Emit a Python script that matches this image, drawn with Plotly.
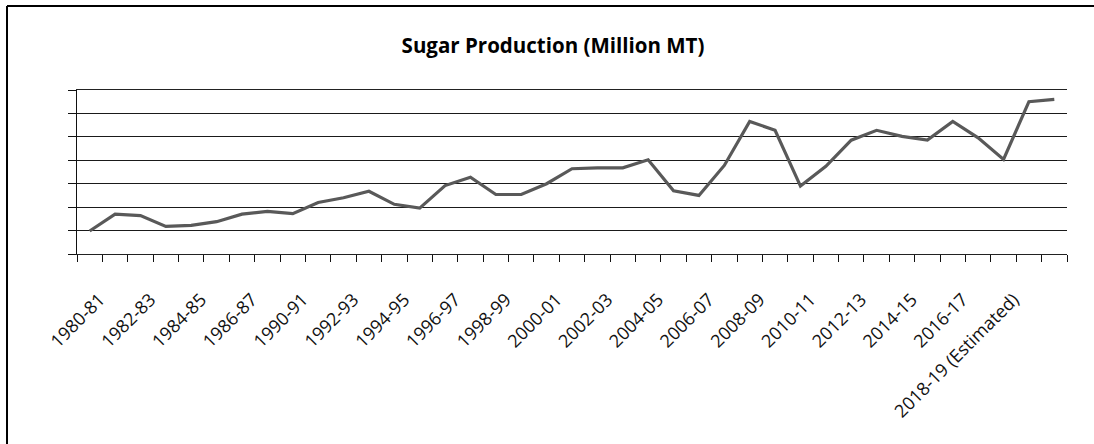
import plotly.graph_objects as go

categories = [
    "1980-81", "1981-82", "1982-83", "1983-84", "1984-85", "1985-86", "1986-87", "1989-90",
    "1990-91", "1991-92", "1992-93", "1993-94", "1994-95", "1995-96", "1996-97", "1997-98",
    "1998-99", "1999-00", "2000-01", "2001-02", "2002-03", "2003-04", "2004-05", "2005-06",
    "2006-07", "2007-08", "2008-09", "2009-10", "2010-11", "2011-12", "2012-13", "2013-14",
    "2014-15", "2015-16", "2016-17", "2017-18", "2018-19 (Estimated)", "2019-20 (Projected)",
    "2020-21 (Projected)",
]
production = [
    4.9, 8.5, 8.2, 5.9, 6.1, 6.9, 8.5, 9.1, 8.6, 11.0, 12.0, 13.4, 10.6, 9.8, 14.6, 16.4,
    12.7, 12.7, 15.0, 18.2, 18.4, 18.4, 20.1, 13.5, 12.5, 18.9, 28.3, 26.4, 14.5, 18.7,
    24.3, 26.4, 25.1, 24.3, 28.3, 24.8, 20.2, 32.5, 33.0,
]
tick_labels = [
    "1980-81", "1982-83", "1984-85", "1986-87", "1990-91", "1992-93", "1994-95", "1996-97",
    "1998-99", "2000-01", "2002-03", "2004-05", "2006-07", "2008-09", "2010-11", "2012-13",
    "2014-15", "2016-17", "2018-19 (Estimated)",
]
y_gridlines = [0, 5, 10, 15, 20, 25, 30, 35]
title_text = "Sugar Production (Million MT)"

x_idx = list(range(len(categories)))
tick_pos = [categories.index(t) for t in tick_labels]
boundaries = [i - 0.5 for i in range(len(categories) + 1)]

fig = go.Figure()
fig.add_trace(go.Scatter(
    x=x_idx, y=production, mode="lines",
    line=dict(color="#595959", width=3.2),
    customdata=categories,
    hovertemplate="%{customdata}: %{y}<extra></extra>",
))

fig.update_layout(
    width=1094, height=444,
    margin=dict(l=77, r=27, t=90, b=190, autoexpand=False),
    paper_bgcolor="white", plot_bgcolor="white",
    showlegend=False,
    font=dict(family="Open Sans, Noto Sans, sans-serif", color="#000000"),
    title=dict(text="<b>" + title_text + "</b>", x=0.5055, xref="container",
               y=0.896, yref="container", xanchor="center", yanchor="middle",
               font=dict(size=20.5, color="#000000")),
    xaxis=dict(
        range=[-0.5, len(categories) - 0.5],
        tickmode="array", tickvals=tick_pos, ticktext=tick_labels,
        tickangle=-45, ticks="", showgrid=False, zeroline=False,
        showline=True, mirror=True, linecolor="#222222", linewidth=1,
        tickfont=dict(size=18, color="#111111"),
        ticklabelstandoff=27, ticklabelshift=10,
        minor=dict(tickmode="array", tickvals=boundaries, ticks="outside",
                   ticklen=7, tickcolor="#111111", tickwidth=1, showgrid=False),
        fixedrange=True,
    ),
    yaxis=dict(
        range=[0, 35], tickmode="array", tickvals=y_gridlines,
        showticklabels=False, ticks="outside", ticklen=8, tickcolor="#111111",
        showgrid=True, gridcolor="#1a1a1a", gridwidth=1, zeroline=False,
        showline=True, linecolor="#111111", linewidth=1, fixedrange=True,
    ),
)

# outer chart border (top and left edges visible)
fig.add_shape(type="line", xref="paper", yref="paper",
              x0=-0.0707, x1=1.03, y0=1.512, y1=1.512,
              line=dict(color="#000000", width=2))
fig.add_shape(type="line", xref="paper", yref="paper",
              x0=-0.0707, x1=-0.0707, y0=1.512, y1=-1.2,
              line=dict(color="#000000", width=2))

fig.write_html("out.html", config={"displayModeBar": False},
               post_script="document.body.style.margin='0';")
